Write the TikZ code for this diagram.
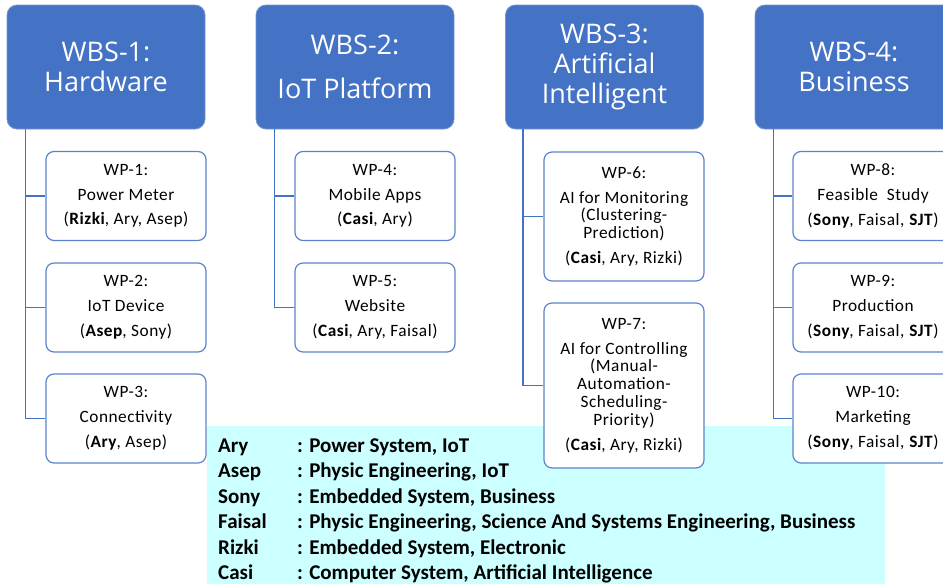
\documentclass[tikz,border=0pt]{standalone}
\usepackage{fontspec}
\usepackage{xcolor}
\setmainfont{Carlito}
\newfontfamily\titulo{Open Sans}
\newfontfamily\paquete[LetterSpace=3]{Carlito}
\definecolor{azul}{HTML}{4472C4}
\definecolor{borde}{HTML}{5B83CC}
\definecolor{celeste}{HTML}{CCFFFF}
\newcommand{\nb}[1]{\textbf{#1}}

\begin{document}
\begin{tikzpicture}[x=1pt, y=-1pt,
		wbs/.style={rectangle, rounded corners=10pt, fill=azul, draw=azul!75!white, line width=0.8pt,
			minimum width=198pt, minimum height=124pt, inner sep=0pt, text=white, align=center,
			font=\titulo\fontsize{27}{30}\selectfont},
		wp/.style={rectangle, rounded corners=8pt, fill=white, draw=borde, line width=1.2pt,
			minimum width=160pt, minimum height=89pt, inner sep=0pt, align=center,
			font=\paquete\fontsize{17.3}{17.8}\selectfont},
		rama/.style={draw=azul, line width=1.3pt},
		leyenda/.style={rectangle, fill=celeste, minimum width=678pt, minimum height=158pt, inner sep=0pt},
		fila/.style={anchor=base west, inner sep=0pt, font=\bfseries\fontsize{21}{25.5}\selectfont}
	]
	\useasboundingbox (0,0) rectangle (943,584);
	\clip (0,0) rectangle (943,584);

	%Recuadro de la leyenda
	\node[leyenda] (ley) at (546,505) {};
	\foreach \nom/\area [count=\i] in {Ary/{: Power System, IoT}, Asep/{: Physic Engineering, IoT},
		Sony/{: Embedded System, Business},
		Faisal/{: Physic Engineering, Science And Systems Engineering, Business},
		Rizki/{: Embedded System, Electronic}, Casi/{: Computer System, Artificial Intelligence}}
	{
		\node[fila] (n\i) at (218,{452+25.5*(\i-1)}) {\nom};
		\node[fila] (a\i) at (297,{452+25.5*(\i-1)}) {\area};
	}

	%Cabeceras WBS
	\node[wbs] (w1) at (106,67) {WBS-1:\\Hardware};
	\node[wbs] (w2) at (355,67) {WBS-2:\\[14pt]IoT Platform};
	\node[wbs] (w3) at (604.5,67) {WBS-3:\\Artificial\\Intelligent};
	\node[wbs] (w4) at (854,67) {WBS-4:\\Business};

	%Paquetes de trabajo
	\node[wp] (p1) at (126,196) {WP-1:\\[7pt]Power Meter\\[7pt](\nb{Rizki}, Ary, Asep)};
	\node[wp] (p2) at (126,307.5) {WP-2:\\[7pt]IoT Device\\[7pt](\nb{Asep}, Sony)};
	\node[wp] (p3) at (126,418.5) {WP-3:\\[7pt]Connectivity\\[7pt](\nb{Ary}, Asep)};
	\node[wp] (p4) at (375,196) {WP-4:\\[7pt]Mobile Apps\\[7pt](\nb{Casi}, Ary)};
	\node[wp] (p5) at (375,307.5) {WP-5:\\[7pt]Website\\[7pt](\nb{Casi}, Ary, Faisal)};
	\node[wp, minimum height=129pt] (p6) at (624,216.5) {WP-6:\\[7pt]AI for Monitoring\\(Clustering-\\Prediction)\\[7pt](\nb{Casi}, Ary, Rizki)};
	\node[wp, minimum height=165pt] (p7) at (624,385.5) {WP-7:\\[7pt]AI for Controlling\\(Manual-\\Automation-\\Scheduling-\\Priority)\\[7pt](\nb{Casi}, Ary, Rizki)};
	\node[wp] (p8) at (873,196) {WP-8:\\[7pt]Feasible\ \ Study\\[7pt](\nb{Sony}, Faisal, \nb{SJT})};
	\node[wp] (p9) at (873,307.5) {WP-9:\\[7pt]Production\\[7pt](\nb{Sony}, Faisal, \nb{SJT})};
	\node[wp] (p10) at (873,418.5) {WP-10:\\[7pt]Marketing\\[7pt](\nb{Sony}, Faisal, \nb{SJT})};

	%Ramas de WBS-1
	\draw[rama] ([xshift=19pt]w1.south west) |- (p1.west);
	\draw[rama] ([xshift=19pt]w1.south west) |- (p2.west);
	\draw[rama] ([xshift=19pt]w1.south west) |- (p3.west);
	%Ramas de WBS-2
	\draw[rama] ([xshift=19pt]w2.south west) |- (p4.west);
	\draw[rama] ([xshift=19pt]w2.south west) |- (p5.west);
	%Ramas de WBS-3
	\draw[rama] ([xshift=18pt]w3.south west) |- (p6.west);
	\draw[rama] ([xshift=18pt]w3.south west) |- (p7.west);
	%Ramas de WBS-4
	\draw[rama] ([xshift=19pt]w4.south west) |- (p8.west);
	\draw[rama] ([xshift=19pt]w4.south west) |- (p9.west);
	\draw[rama] ([xshift=19pt]w4.south west) |- (p10.west);
\end{tikzpicture}
\end{document}
